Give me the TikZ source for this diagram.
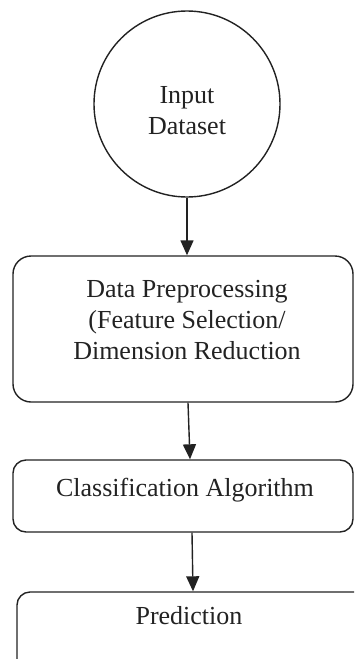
\documentclass[tikz,border=0pt]{standalone}
\usepackage{fontspec}
\setmainfont{Liberation Serif}
\usetikzlibrary{arrows.meta}
\definecolor{ink}{HTML}{222222}
\tikzset{
  outline/.style={draw=ink, line width=1.4pt},
  boxa/.style={outline, rectangle, rounded corners=18pt, minimum width=340pt, inner sep=0pt},
  boxb/.style={outline, rectangle, rounded corners=13pt, minimum width=340pt, inner sep=0pt},
  txt/.style={text=ink, align=center, font=\fontsize{26}{31}\selectfont, inner sep=0pt},
  arr/.style={draw=ink, line width=1.4pt, -{Triangle[width=13pt,length=15pt]}}
}
\begin{document}
\begin{tikzpicture}[x=1pt,y=-1pt]
\useasboundingbox (0,0) rectangle (354,659);
\clip (0,0) rectangle (354,659);
\node[outline, circle, minimum size=186pt, inner sep=0pt] (input) at (187,104) {};
\node[txt] (inputtext) at (187,111) {Input\\Dataset};
\node[boxa, minimum height=146pt] (pre) at (183,329) {};
\node[txt] (pretext) at (187,320) {Data Preprocessing\\(Feature Selection/\\Dimension Reduction};
\node[boxb, minimum height=72pt] (cls) at (183,496) {};
\node[txt] (clstext) at (185,490) {Classification Algorithm};
\node[boxb, minimum height=100pt, minimum width=356pt] (pred) at (195,642) {};
\node[txt] (predtext) at (189,616) {Prediction};
\draw[arr] (input.south) -- (input.south |- pre.north);
\draw[arr] ([xshift=5pt]pre.south) -- ([xshift=7pt]cls.north);
\draw[arr] ([xshift=9pt]cls.south) -- ([xshift=-2pt]pred.north);
\end{tikzpicture}
\end{document}
